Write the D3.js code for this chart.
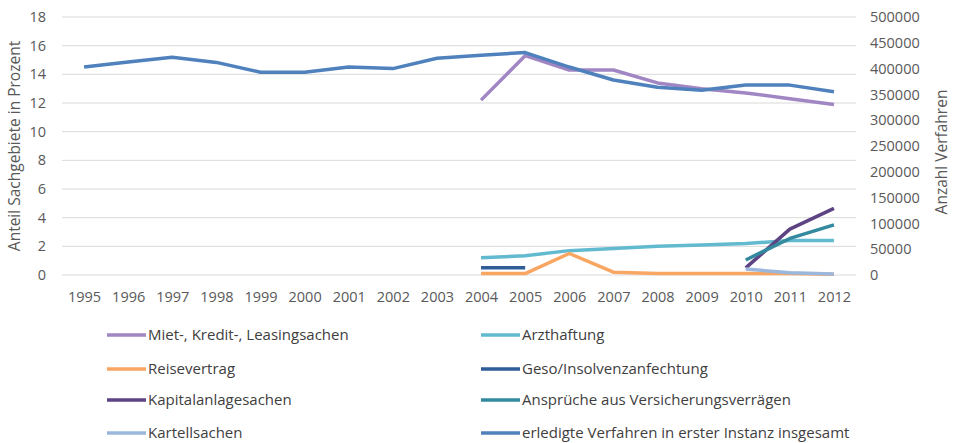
<!DOCTYPE html>
<html>
<head>
<meta charset="utf-8">
<script src="https://d3js.org/d3.v7.min.js"></script>
<style>
  body { margin: 0; background: #fff; }
  .tick text { fill: #595959; font-family: "Open Sans", "Noto Sans", sans-serif; font-size: 14.5px; }
  .legend text { fill: #404040; font-family: "Open Sans", "Noto Sans", sans-serif; font-size: 15px; }
  .axis-title { fill: #595959; font-family: "Open Sans", "Noto Sans", sans-serif; font-size: 15.5px; }
  .line { fill: none; stroke-width: 3.5px; stroke-linejoin: round; stroke-linecap: butt; }
</style>
</head>
<body>
<script>
    // years on the x axis
    var years = ["1995","1996","1997","1998","1999","2000","2001","2002","2003",
                 "2004","2005","2006","2007","2008","2009","2010","2011","2012"];

    // shares in percent (left axis), null = no value
    var mietKredit    = [null,null,null,null,null,null,null,null,null, 12.2,15.3,14.3,14.3,13.4,13.0,12.7,12.3,11.9];
    var arzthaftung   = [null,null,null,null,null,null,null,null,null, 1.2,1.35,1.7,1.85,2.0,2.1,2.2,2.4,2.4];
    var reisevertrag  = [null,null,null,null,null,null,null,null,null, 0.1,0.1,1.5,0.2,0.1,0.1,0.1,0.1,0.05];
    var geso          = [null,null,null,null,null,null,null,null,null, 0.5,0.5,null,null,null,null,null,null,null];
    var kapitalanlage = [null,null,null,null,null,null,null,null,null, null,null,null,null,null,null,0.5,3.2,4.65];
    var versicherung  = [null,null,null,null,null,null,null,null,null, null,null,null,null,null,null,1.05,2.55,3.5];
    var kartell       = [null,null,null,null,null,null,null,null,null, null,null,null,null,null,null,0.42,0.15,0.07];

    // number of finished cases (right axis)
    var erledigt = [403000,413000,422000,412000,393000,393000,403000,400000,420000,
                    426000,431000,403000,378000,364000,358000,368000,368000,355000];

    var leftTicks = [0,2,4,6,8,10,12,14,16,18];
    var rightTicks = [0,50000,100000,150000,200000,250000,300000,350000,400000,450000,500000];

    var series = [
        {name: "Miet-, Kredit-, Leasingsachen", values: mietKredit, color: "#a186c4", axis: "left"},
        {name: "Arzthaftung", values: arzthaftung, color: "#62bad0", axis: "left"},
        {name: "Reisevertrag", values: reisevertrag, color: "#f9a663", axis: "left"},
        {name: "Geso/Insolvenzanfechtung", values: geso, color: "#2e5d98", axis: "left"},
        {name: "Kapitalanlagesachen", values: kapitalanlage, color: "#5e4383", axis: "left"},
        {name: "Ansprüche aus Versicherungsverrägen", values: versicherung, color: "#33899e", axis: "left"},
        {name: "Kartellsachen", values: kartell, color: "#9bb7dc", axis: "left"},
        {name: "erledigte Verfahren in erster Instanz insgesamt", values: erledigt, color: "#4f81bd", axis: "right"}
    ];

    var width = 960, height = 443;
    var plotLeft = 62, plotRight = 856, plotTop = 17, plotBottom = 275;

    var svg = d3.select("body").append("svg")
        .attr("width", width)
        .attr("height", height);

    var x = d3.scalePoint().domain(years).range([plotLeft, plotRight]).padding(0.5);
    var yL = d3.scaleLinear().domain([0, 18]).range([plotBottom, plotTop]);
    var yR = d3.scaleLinear().domain([0, 500000]).range([plotBottom, plotTop]);

    // gridlines
    svg.append("g").selectAll("line")
        .data(leftTicks)
        .enter().append("line")
        .attr("x1", plotLeft).attr("x2", plotRight)
        .attr("y1", function(d) { return yL(d); })
        .attr("y2", function(d) { return yL(d); })
        .attr("stroke", "#d9d9d9")
        .attr("stroke-width", 1);

    // left axis
    var gl = svg.append("g")
        .attr("transform", "translate(46,0)")
        .call(d3.axisLeft(yL).tickValues(leftTicks).tickSize(0).tickPadding(0));
    gl.select(".domain").remove();

    // right axis
    var gr = svg.append("g")
        .attr("transform", "translate(870,0)")
        .call(d3.axisRight(yR).tickValues(rightTicks).tickSize(0).tickPadding(0).tickFormat(d3.format("d")));
    gr.select(".domain").remove();

    // x axis
    var gx = svg.append("g")
        .attr("transform", "translate(0,292)")
        .call(d3.axisBottom(x).tickSize(0).tickPadding(0));
    gx.select(".domain").remove();

    // axis titles
    svg.append("text")
        .attr("class", "axis-title")
        .attr("transform", "translate(20," + ((plotTop + plotBottom) / 2) + ") rotate(-90)")
        .attr("text-anchor", "middle")
        .text("Anteil Sachgebiete in Prozent");

    svg.append("text")
        .attr("class", "axis-title")
        .attr("transform", "translate(947," + ((plotTop + plotBottom) / 2 + 6) + ") rotate(-90)")
        .attr("text-anchor", "middle")
        .text("Anzahl Verfahren");

    // lines
    series.forEach(function(s) {
        var yScale = s.axis === "right" ? yR : yL;
        var line = d3.line()
            .defined(function(d) { return d != null; })
            .x(function(d, i) { return x(years[i]); })
            .y(function(d) { return yScale(d); });
        svg.append("path")
            .datum(s.values)
            .attr("class", "line")
            .style("stroke", s.color)
            .attr("d", line);
    });

    // legend, two columns
    var legendCols = [107, 481], legendRows = [335, 369, 400, 433];
    var legend = svg.append("g").attr("class", "legend");
    series.forEach(function(s, i) {
        var lx = legendCols[i % 2], ly = legendRows[Math.floor(i / 2)];
        legend.append("line")
            .attr("x1", lx).attr("x2", lx + 39)
            .attr("y1", ly).attr("y2", ly)
            .attr("stroke", s.color)
            .attr("stroke-width", 3.5);
        legend.append("text")
            .attr("x", lx + 41)
            .attr("y", ly)
            .attr("dy", "0.35em")
            .text(s.name);
    });
</script>
</body>
</html>
